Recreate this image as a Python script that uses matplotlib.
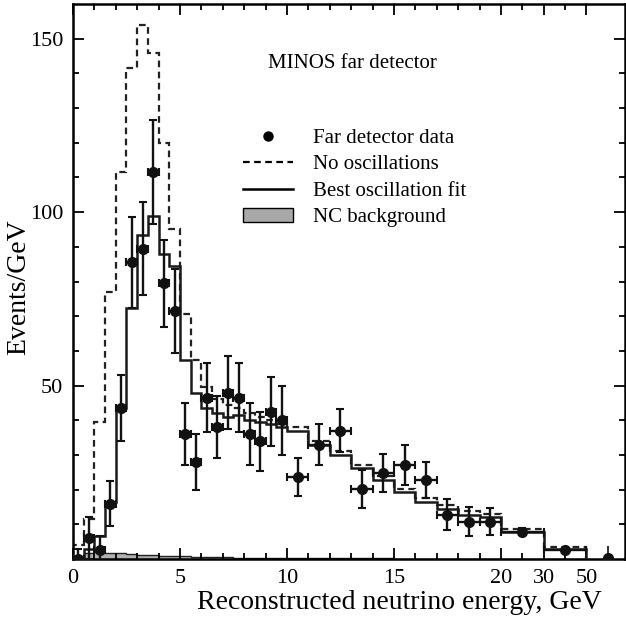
"""MINOS far detector spectrum: data vs no-oscillation and best-fit predictions."""
import numpy as np
import matplotlib
matplotlib.use("Agg")
import matplotlib.pyplot as plt
from matplotlib.lines import Line2D
from matplotlib.patches import Patch
from matplotlib.legend_handler import HandlerLine2D

# bin edges in GeV: 0.5 GeV up to 10, 1 GeV up to 20, then two wide bins
edges = [0, 0.5, 1, 1.5, 2, 2.5, 3, 3.5, 4, 4.5, 5, 5.5, 6, 6.5, 7, 7.5, 8, 8.5,
         9, 9.5, 10, 11, 12, 13, 14, 15, 16, 17, 18, 19, 20, 30, 50]

# events/GeV per bin
data = [0, 6, 2.5, 16, 43.5, 85.5, 89.5, 111.5, 79.5, 71.5, 36, 28, 46.5, 38,
        48, 46.5, 36, 34, 42.5, 40, 23.7, 33, 37, 20.2, 24.7, 27, 22.8, 12.8,
        10.8, 10.8, 7.9, 2.7]
data_err = [3, 6, 4, 6.5, 9.5, 13, 13.5, 15, 12.5, 12, 9, 8, 10, 9, 10.5, 10,
            9, 8.5, 10, 10, 5.5, 6, 6.2, 5.4, 5.5, 5.8, 5.2, 4.5, 4.2, 4, 1, 0.5]
best_fit = [0.5, 3, 6.5, 16.5, 43.5, 72.5, 93.5, 99, 88, 84.5, 57.5, 48, 43.5,
            42, 41, 41.5, 40, 39.5, 39, 38, 37, 33, 30, 26.2, 22.8, 19.2, 16.5,
            14.5, 12.8, 12, 7.8, 2.8]
no_osc = [4, 11.5, 39.5, 77, 111.5, 141.5, 154, 146, 120, 95, 70.5, 57.5, 49.5,
          46, 44.5, 43.5, 42, 41, 40, 39, 38, 34, 31, 27.2, 23.8, 20.2, 17.5,
          15.5, 13.8, 13, 8.6, 3.4]
nc_bkg = [0.8, 1.6, 2.0, 1.8, 1.6, 1.4, 1.2, 1.1, 1.0, 0.9, 0.8, 0.7, 0.6, 0.5,
          0.5, 0.4, 0.4, 0.3, 0.3, 0.3, 0.3, 0.2, 0.2, 0.2, 0.2, 0.1, 0.1, 0.1,
          0.1, 0.1, 0.05, 0.02]
# overflow point (> 50 GeV)
overflow_e, overflow_val, overflow_err = 60, 0.3, 3.5

x_ticks = [0, 5, 10, 15, 20, 30, 50]
x_minor = [1, 2, 3, 4, 6, 7, 8, 9, 11, 12, 13, 14, 16, 17, 18, 19, 25, 40]
y_ticks = [50, 100, 150]

# piecewise axis: linear to 20 GeV, compressed above
E_KNOTS = [0, 20, 30, 50, 70]
U_KNOTS = [0, 20, 22, 24, 26]


def fwd(x):
    x = np.asarray(x, float)
    return np.where(x < 0, x, np.where(x > 70, 26 + (x - 70) * 0.1,
                                        np.interp(x, E_KNOTS, U_KNOTS)))


def inv(u):
    u = np.asarray(u, float)
    return np.where(u < 0, u, np.where(u > 26, 70 + (u - 26) * 10,
                                        np.interp(u, U_KNOTS, E_KNOTS)))


class MarkerAtEnd(HandlerLine2D):
    def get_xdata(self, legend, xdescent, ydescent, width, height, fontsize):
        return [-xdescent, -xdescent + width], [-xdescent + 0.9 * width]


plt.rcParams['font.family'] = ['Liberation Serif', 'DejaVu Serif']
plt.rcParams['font.size'] = 16

fig = plt.figure(figsize=(6.26, 6.18), dpi=100)
ax = fig.add_axes([73 / 626, 59 / 618, 552 / 626, 555 / 618])
ax.set_xscale('function', functions=(fwd, inv))

e = np.array(edges)
centers = (e[:-1] + e[1:]) / 2
half = (e[1:] - e[:-1]) / 2

ax.stairs(nc_bkg, edges, fill=True, color='#b0b0b0', zorder=1)
ax.stairs(nc_bkg, edges, color='#222222', lw=1.0, zorder=1)
ax.stairs(no_osc, edges, color='#222222', lw=1.6, ls=(0, (3, 2)), zorder=2)
ax.stairs(best_fit, edges, color='#1a1a1a', lw=1.8, zorder=3)
ax.errorbar(centers, data, yerr=data_err, xerr=half, fmt='o', color='#111111',
            ms=7, elinewidth=1.7, capsize=3, capthick=1.5, zorder=4)
ax.errorbar([overflow_e], [overflow_val], yerr=[overflow_err], fmt='o',
            color='#111111', ms=7, elinewidth=1.2, capsize=0, zorder=4)

ax.set_xlim(0, 68)
ax.set_ylim(0, 160)
ax.set_xticks(x_ticks)
ax.set_xticklabels([str(t) for t in x_ticks])
ax.set_xticks(x_minor, minor=True)
ax.set_yticks(y_ticks)
ax.set_yticks(np.arange(10, 160, 10), minor=True)
ax.tick_params(which='both', direction='in', top=True, right=True, width=1.3)
ax.tick_params(which='major', length=8, pad=7, labelsize=16)
ax.tick_params(which='minor', length=4)
for s in ax.spines.values():
    s.set_linewidth(1.8)

ax.set_ylabel('Events/GeV', fontsize=20)
ax.yaxis.set_label_coords(-0.076, 0.49)
ax.set_xlabel('Reconstructed neutrino energy, GeV', fontsize=20)
ax.xaxis.set_label_coords(0.592, -0.055)

ax.text(0.353, 0.893, 'MINOS far detector', transform=ax.transAxes,
        va='center', ha='left', fontsize=15)

handles = [
    Line2D([], [], marker='o', color='k', ls='none', ms=6.5),
    Line2D([], [], color='k', lw=1.6, ls=(0, (3, 2))),
    Line2D([], [], color='k', lw=1.8),
    Patch(facecolor='#a8a8a8', edgecolor='k', lw=1.0),
]
labels = ['Far detector data', 'No oscillations', 'Best oscillation fit',
          'NC background']
ax.legend(handles, labels, loc='upper left', bbox_to_anchor=(0.308, 0.776),
          frameon=False, borderpad=0, borderaxespad=0, handlelength=2.4,
          handletextpad=0.95, labelspacing=0.33, fontsize=15,
          handler_map={handles[0]: MarkerAtEnd()})

fig.savefig('out.png', dpi=100)
